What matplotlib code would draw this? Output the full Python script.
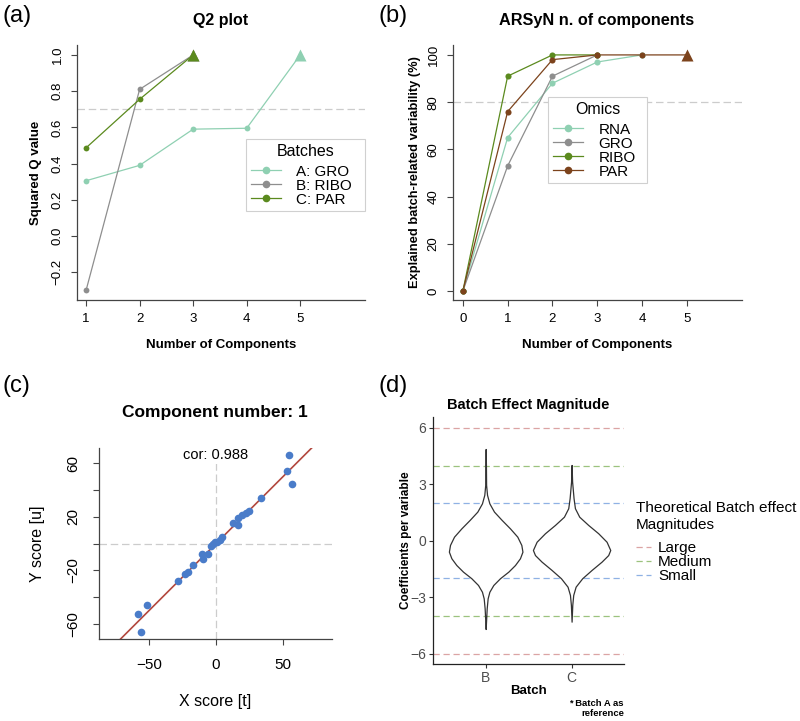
import matplotlib
matplotlib.use("Agg")
import matplotlib.pyplot as plt
from matplotlib.lines import Line2D
import numpy as np

plt.rcParams['font.family'] = ['Liberation Sans', 'DejaVu Sans']
plt.rcParams['axes.unicode_minus'] = True

W, H = 800, 721

# ---------------- data ----------------
# (a) Q2 plot
q2_components = [1, 2, 3, 4, 5]
q2_A_gro = [0.305, 0.39, 0.59, 0.595, 1.0]
q2_B_ribo = [-0.30, 0.81, 1.0]
q2_C_par = [0.487, 0.755, 1.0]
q2_threshold = 0.7
q2_labels = ["A: GRO", "B: RIBO", "C: PAR"]

# (b) ARSyN number of components
ar_components = [0, 1, 2, 3, 4, 5]
ar_rna = [0, 65, 88, 97, 100]
ar_gro = [0, 53, 91, 100]
ar_ribo = [0, 91, 100, 100]
ar_par = [0, 76, 98, 100, 100, 100]
ar_threshold = 80
ar_labels = ["RNA", "GRO", "RIBO", "PAR"]

# (c) component scores
x_score = [54.2, 52.7, 57.0, 33.8, 24.4, 22.2, 19.2, 16.2, 12.4, 16.7, 4.2, 3.0,
           1.0, -0.7, -2.0, -3.7, -5.7, -10.7, -9.5, -16.9, -21.1, -23.1, -28.6,
           -51.7, -57.9, -55.7]
y_score = [66.2, 54.1, 44.8, 33.9, 24.4, 22.7, 21.2, 19.4, 15.2, 14.0, 5.0, 2.8,
           1.5, 1.5, -0.2, -1.7, -7.7, -7.7, -11.7, -15.9, -21.4, -22.4, -27.9,
           -45.6, -52.5, -66.2]
fit_intercept = 0.0
fit_slope = 1.0
cor_value = 0.988

# (d) violin outlines (y level, half width)
batches = ["B", "C"]
vB_y = [4.88, 4.03, 2.97, 2.44, 1.99, 1.55, 1.11, 0.66, 0.22, -0.22, -0.58, -0.93,
        -1.29, -1.64, -1.99, -2.35, -2.71, -3.06, -3.59, -4.12, -4.69]
vB_w = [0, 0.003, 0.005, 0.016, 0.043, 0.097, 0.186, 0.283, 0.368, 0.415, 0.428,
        0.399, 0.341, 0.264, 0.167, 0.089, 0.043, 0.023, 0.012, 0.006, 0]
vC_y = [4.03, 3.15, 2.26, 1.73, 1.28, 0.84, 0.40, -0.05, -0.49, -0.76, -1.11, -1.55,
        -1.99, -2.44, -2.88, -3.41, -4.30]
vC_w = [0, 0.006, 0.023, 0.039, 0.089, 0.194, 0.31, 0.407, 0.450, 0.426, 0.349,
        0.233, 0.124, 0.047, 0.019, 0.008, 0]
mag_names = ["Large", "Medium", "Small"]
mag_values = [6, 4, 2]
mag_colors = ["#dba4a4", "#9cc27e", "#8fb1e4"]

# colours
c_mint = "#8fd0b2"
c_grey = "#8e8e8e"
c_olive = "#5b8a1e"
c_brown = "#7c431c"


def rect(l, t, r, b):
    return [l / W, 1 - b / H, (r - l) / W, (b - t) / H]


def ftext(x, y, s, **kw):
    fig.text(x / W, 1 - y / H, s, **kw)


def rbase_axes(ax, labelsize=9.5, pad=5):
    for s in ["top", "right"]:
        ax.spines[s].set_visible(False)
    for s in ["left", "bottom"]:
        ax.spines[s].set_color("#444444")
        ax.spines[s].set_linewidth(0.9)
    ax.tick_params(direction="out", length=4.5, width=0.8, color="#444444",
                   labelsize=labelsize, pad=pad)


fig = plt.figure(figsize=(W / 100, H / 100), dpi=100)

# ---------------- (a) ----------------
axa = fig.add_axes(rect(77, 45, 365, 300))
rbase_axes(axa)
axa.set_xlim(0.83, 6.21)
axa.set_ylim(-0.354, 1.055)
axa.axhline(q2_threshold, color="#cccccc", lw=0.9, dashes=(6, 3), zorder=1)
series_a = [(q2_A_gro, c_mint), (q2_B_ribo, c_grey), (q2_C_par, c_olive)]
for vals, col in series_a:
    xs = q2_components[:len(vals)]
    axa.plot(xs, vals, color=col, lw=0.9, zorder=2)
    axa.plot(xs[:-1], vals[:-1], "o", color=col, ms=4.2, mec="none", zorder=3)
    axa.plot(xs[-1:], vals[-1:], "^", color=col, ms=8.5, mec="none", zorder=3)
axa.set_xticks([1, 2, 3, 4, 5])
axa.set_yticks([-0.2, 0.0, 0.2, 0.4, 0.6, 0.8, 1.0])
axa.set_yticklabels(["−0.2", "0.0", "0.2", "0.4", "0.6", "0.8", "1.0"],
                    rotation=90, va="center")
axa.set_xlabel("Number of Components", fontsize=9.5, fontweight="bold", labelpad=10)
axa.set_ylabel("Squared Q value", fontsize=9.5, fontweight="bold", labelpad=7)
ftext(221, 21, "Q2 plot", ha="center", va="center", fontsize=11.5, fontweight="bold")
ha_ = [Line2D([], [], color=c, marker="o", ms=5.5, mec="none", lw=0.9)
       for c in (c_mint, c_grey, c_olive)]
leg = axa.legend(ha_, q2_labels, title="Batches", loc="upper left",
                 bbox_to_anchor=(246 / W, 1 - 215 / H, 119 / W, 76 / H),
                 bbox_transform=fig.transFigure, mode="expand",
                 fancybox=False, edgecolor="#d0d0d0", framealpha=1, borderaxespad=0,
                 fontsize=11, title_fontsize=11.5, handlelength=2.0, handletextpad=1.0,
                 labelspacing=0.0, borderpad=0.3)
leg.get_frame().set_linewidth(0.8)
leg._legend_box.sep = 4.5

# ---------------- (b) ----------------
axb = fig.add_axes(rect(453, 45, 742, 300))
rbase_axes(axb)
axb.set_xlim(-0.22, 6.23)
axb.set_ylim(-3.8, 104.2)
axb.axhline(ar_threshold, color="#cccccc", lw=0.9, dashes=(6, 3), zorder=1)
series_b = [(ar_rna, c_mint), (ar_gro, c_grey), (ar_ribo, c_olive), (ar_par, c_brown)]
for vals, col in series_b:
    xs = ar_components[:len(vals)]
    axb.plot(xs, vals, color=col, lw=0.9, zorder=2)
    if len(vals) == len(ar_components):
        axb.plot(xs[:-1], vals[:-1], "o", color=col, ms=4.4, mec="none", zorder=3)
        axb.plot(xs[-1:], vals[-1:], "^", color=col, ms=8.5, mec="none", zorder=3)
    else:
        axb.plot(xs, vals, "o", color=col, ms=4.4, mec="none", zorder=3)
axb.set_xticks([0, 1, 2, 3, 4, 5])
axb.set_yticks([0, 20, 40, 60, 80, 100])
axb.set_yticklabels(["0", "20", "40", "60", "80", "100"], rotation=90, va="center")
axb.set_xlabel("Number of Components", fontsize=9.5, fontweight="bold", labelpad=10)
axb.set_ylabel("Explained batch-related variability (%)", fontsize=9.3,
               fontweight="bold", labelpad=5)
ftext(597, 21, "ARSyN n. of components", ha="center", va="center", fontsize=11.7,
      fontweight="bold")
hb_ = [Line2D([], [], color=c, marker="o", ms=5.5, mec="none", lw=0.9)
       for c in (c_mint, c_grey, c_olive, c_brown)]
legb = axb.legend(hb_, ar_labels, title="Omics", loc="upper left",
                  bbox_to_anchor=(548 / W, 1 - 188 / H, 99 / W, 91 / H),
                  bbox_transform=fig.transFigure, mode="expand",
                  fancybox=False, edgecolor="#d0d0d0", framealpha=1, borderaxespad=0,
                  fontsize=11, title_fontsize=11.5, handlelength=2.0, handletextpad=1.0,
                  labelspacing=0.0, borderpad=0.3)
legb.get_frame().set_linewidth(0.8)
legb._legend_box.sep = 4.5

# ---------------- (c) ----------------
axc = fig.add_axes(rect(99, 448, 332, 639))
rbase_axes(axc, labelsize=11, pad=9)
axc.set_xlim(-87.3, 86.6)
axc.set_ylim(-71.2, 71.4)
axc.axhline(0, color="#cccccc", lw=0.9, dashes=(6, 3), zorder=1)
axc.axvline(0, color="#cccccc", lw=0.9, dashes=(6, 3), zorder=1)
axc.axline((0, fit_intercept), slope=fit_slope, color="#b2473d", lw=1.2, zorder=2)
axc.plot(x_score, y_score, "o", color="#4a7cc9", ms=5.5, mec="none", zorder=3)
axc.set_xticks([-50, 0, 50])
axc.set_xticklabels(["−50", "0", "50"])
axc.set_yticks([-60, -40, -20, 0, 20, 40, 60])
axc.set_yticklabels(["−60", "", "−20", "", "20", "", "60"], rotation=90, va="center")
axc.set_xlabel("X score [t]", fontsize=11.5, labelpad=16)
axc.set_ylabel("Y score [u]", fontsize=11.5, labelpad=15)
axc.text(0, 66, f"cor: {cor_value}", ha="center", va="center", fontsize=10.5,
         bbox=dict(facecolor="white", edgecolor="none", pad=1), zorder=4)
ftext(215, 412, "Component number: 1", ha="center", va="center", fontsize=12.5,
      fontweight="bold")

# ---------------- (d) ----------------
axd = fig.add_axes(rect(433, 417, 624, 664))
for s in ["top", "right"]:
    axd.spines[s].set_visible(False)
for s in ["left", "bottom"]:
    axd.spines[s].set_color("#222222")
    axd.spines[s].set_linewidth(0.9)
axd.tick_params(direction="out", length=3, width=0.8, color="#333333",
                labelsize=10, labelcolor="#4d4d4d", pad=2)
axd.set_xlim(0.387, 2.61)
axd.set_ylim(-6.55, 6.58)
for name, val, col in zip(mag_names, mag_values, mag_colors):
    axd.axhline(val, color=col, lw=0.9, dashes=(5, 3), label=name, zorder=1)
    axd.axhline(-val, color=col, lw=0.9, dashes=(5, 3), zorder=1)
for pos, vy, vw in [(1, vB_y, vB_w), (2, vC_y, vC_w)]:
    vy = np.array(vy)
    vw = np.array(vw)
    axd.fill_betweenx(vy, pos - vw, pos + vw, facecolor="white", edgecolor="#333333",
                      lw=0.9, zorder=2, alpha=1)
axd.set_xticks([1, 2])
axd.set_xticklabels(batches)
axd.set_yticks([-6, -3, 0, 3, 6])
axd.set_yticklabels(["−6", "−3", "0", "3", "6"])
axd.set_xlabel("Batch", fontsize=9.5, fontweight="bold", labelpad=0)
axd.set_ylabel("Coefficients per variable", fontsize=8.5, fontweight="bold", labelpad=-1)
ftext(528, 405, "Batch Effect Magnitude", ha="center", va="center", fontsize=10.5,
      fontweight="bold")
ftext(624, 703, "* Batch A as", ha="right", va="center", fontsize=6.8, fontweight="bold")
ftext(624, 714, "reference", ha="right", va="center", fontsize=6.8, fontweight="bold")
ftext(636, 508, "Theoretical Batch effect", ha="left", va="center", fontsize=11)
ftext(636, 525, "Magnitudes", ha="left", va="center", fontsize=11)
legd = axd.legend(loc="upper left",
                  bbox_to_anchor=(636 / W, 1 - 541 / H), bbox_transform=fig.transFigure,
                  frameon=False, fontsize=11, alignment="left",
                  handlelength=1.0, handletextpad=0.45, labelspacing=0.0,
                  borderaxespad=0, borderpad=0)

# panel labels
for lbl, x, y in [("(a)", 3, 16), ("(b)", 378, 16), ("(c)", 3, 386), ("(d)", 378, 386)]:
    ftext(x, y, lbl, ha="left", va="center", fontsize=17)

fig.savefig("out.png", dpi=100)
